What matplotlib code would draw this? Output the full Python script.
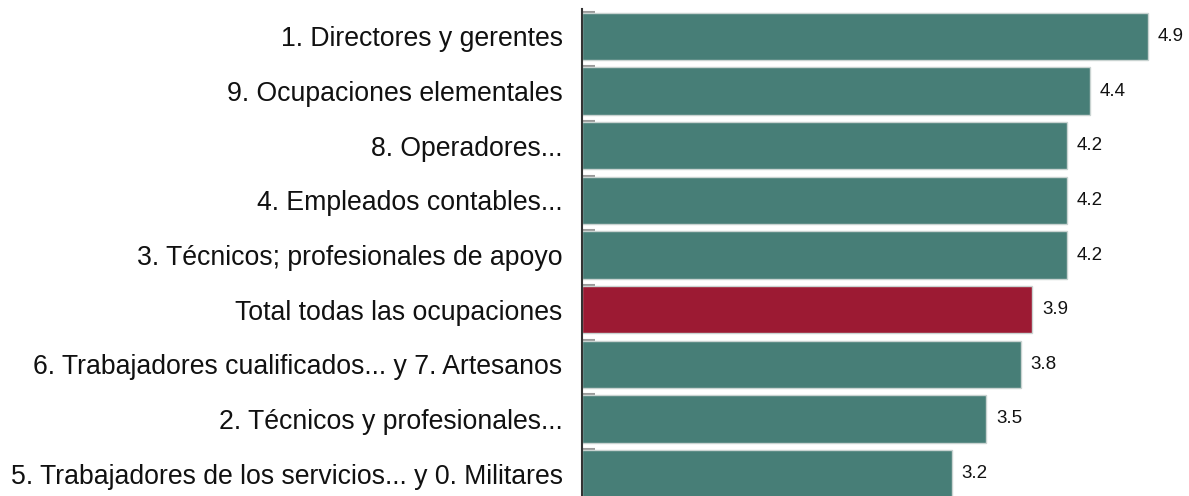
import matplotlib
matplotlib.use("Agg")
import matplotlib.pyplot as plt
from matplotlib.ticker import FixedLocator

categories = [
    "1. Directores y gerentes",
    "9. Ocupaciones elementales",
    "8. Operadores...",
    "4. Empleados contables...",
    "3. Técnicos; profesionales de apoyo",
    "Total todas las ocupaciones",
    "6. Trabajadores cualificados... y 7. Artesanos",
    "2. Técnicos y profesionales...",
    "5. Trabajadores de los servicios... y 0. Militares",
]
values = [4.9, 4.4, 4.2, 4.2, 4.2, 3.9, 3.8, 3.5, 3.2]
value_labels = ["4.9", "4.4", "4.2", "4.2", "4.2", "3.9", "3.8", "3.5", "3.2"]
highlight = "Total todas las ocupaciones"

teal = "#477e77"
red = "#9c1a33"
colors = [red if c == highlight else teal for c in categories]

plt.rcParams['font.family'] = ['Liberation Sans', 'DejaVu Sans']

W, H = 1189, 496
fig = plt.figure(figsize=(W / 100, H / 100), dpi=100)
left, right, top, bottom = 582, 1171, 9, 501
ax = fig.add_axes([left / W, 1 - bottom / H, (right - left) / W, (bottom - top) / H])

y = list(range(len(categories)))
ax.barh(y, values, height=0.86, color=colors, edgecolor="#c9d3d1", linewidth=1.0, zorder=2)
ax.set_ylim(len(categories) - 0.5, -0.5)
ax.set_xlim(0, 5.1)

for yi, v, lab in zip(y, values, value_labels):
    ax.annotate(lab, (v, yi), xytext=(7, 0), textcoords="offset points",
                va="center", ha="left", fontsize=13.5, color="#111111")

ax.set_yticks(y)
ax.set_yticklabels(categories, fontsize=19.2, color="#111111")
ax.tick_params(axis="y", which="major", length=0, pad=14)
ax.yaxis.set_minor_locator(FixedLocator([i - 0.45 for i in range(len(categories))]))
ax.tick_params(axis="y", which="minor", direction="in", length=9, width=1.5, color="#9a9a9a")
ax.set_xticks([])

for s in ["top", "right", "bottom"]:
    ax.spines[s].set_visible(False)
ax.spines["left"].set_color("#333333")
ax.spines["left"].set_linewidth(1.5)

fig.savefig("out.png", dpi=100)
